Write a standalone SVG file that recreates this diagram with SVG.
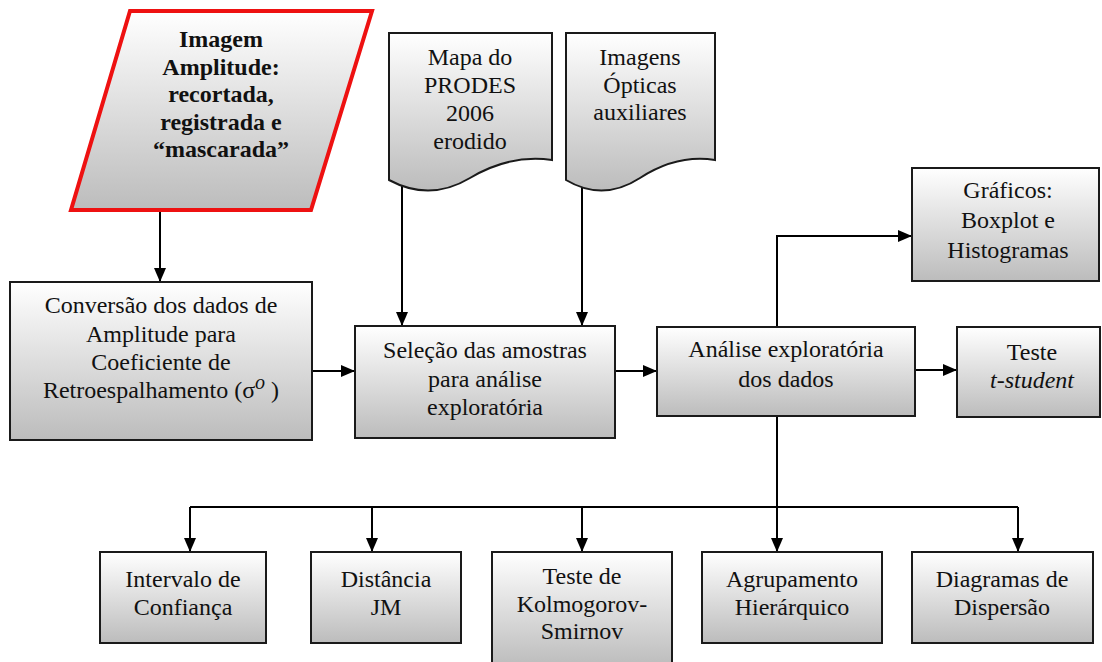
<svg xmlns="http://www.w3.org/2000/svg" width="1102" height="662" viewBox="0 0 1102 662">
<defs>
<linearGradient id="g" x1="0" y1="0" x2="0" y2="1">
<stop offset="0" stop-color="#ffffff"/>
<stop offset="1" stop-color="#bcbcbc"/>
</linearGradient>
<marker id="ah" markerWidth="14" markerHeight="12" refX="13" refY="6" orient="auto" markerUnits="userSpaceOnUse">
<path d="M0,0 L14,6 L0,12 Z" fill="#000"/>
</marker>
<style>
.box{fill:url(#g);stroke:#1a1a1a;stroke-width:2}
text{font-size:24px;fill:#111;text-anchor:middle}
.b{font-weight:bold}
.c{fill:none;stroke:#000;stroke-width:2}
</style>
</defs>
<rect width="1102" height="662" fill="#fff"/>

<g id="connectors">
<path class="c" d="M160,212 V281" marker-end="url(#ah)"/>
<path class="c" d="M402,186 V325" marker-end="url(#ah)"/>
<path class="c" d="M582,187 V325" marker-end="url(#ah)"/>
<path class="c" d="M312,371 H354" marker-end="url(#ah)"/>
<path class="c" d="M615,371 H656" marker-end="url(#ah)"/>
<path class="c" d="M777,327 V236 H911" marker-end="url(#ah)"/>
<path class="c" d="M915,370 H956" marker-end="url(#ah)"/>
<path class="c" d="M777,416 V551" marker-end="url(#ah)"/>
<path class="c" d="M190,507 H1018"/>
<path class="c" d="M190,507 V551" marker-end="url(#ah)"/>
<path class="c" d="M372,507 V551" marker-end="url(#ah)"/>
<path class="c" d="M582,507 V551" marker-end="url(#ah)"/>
<path class="c" d="M1018,507 V551" marker-end="url(#ah)"/>
</g>

<g font-family="Liberation Serif, serif">
<g id="imagem">
<polygon points="130,11 372,11 311,210 71,210" fill="url(#g)" stroke="#ee1111" stroke-width="4"/>
<text class="b" x="221" y="47">Imagem</text>
<text class="b" x="221" y="75">Amplitude:</text>
<text class="b" x="221" y="102">recortada,</text>
<text class="b" x="221" y="130">registrada e</text>
<text class="b" x="221" y="157">“mascarada”</text>
</g>

<g id="mapa">
<path class="box" d="M389,33 H552 V160 Q510,154 470,178 T389,180 Z"/>
<text x="470" y="65">Mapa do</text>
<text x="470" y="93">PRODES</text>
<text x="470" y="121">2006</text>
<text x="470" y="149">erodido</text>
</g>

<g id="opticas">
<path class="box" d="M566,33 H715 V160 Q677,154 640,178 T566,180 Z"/>
<text x="640" y="65">Imagens</text>
<text x="640" y="93">Ópticas</text>
<text x="640" y="120">auxiliares</text>
</g>

<g id="conversao">
<rect class="box" x="10" y="282" width="302" height="158"/>
<text x="161" y="313">Conversão dos dados de</text>
<text x="161" y="342">Amplitude para</text>
<text x="161" y="370">Coeficiente de</text>
<text x="161" y="398">Retroespalhamento (σ<tspan dy="-9" font-style="italic" font-size="20">o</tspan><tspan dy="9"> )</tspan></text>
</g>

<g id="selecao">
<rect class="box" x="355" y="326" width="260" height="112"/>
<text x="485" y="358">Seleção das amostras</text>
<text x="485" y="387">para análise</text>
<text x="485" y="415">exploratória</text>
</g>

<g id="analise">
<rect class="box" x="657" y="327" width="258" height="89"/>
<text x="786" y="357">Análise exploratória</text>
<text x="786" y="387">dos dados</text>
</g>

<g id="graficos">
<rect class="box" x="912" y="168" width="187" height="113"/>
<text x="1008" y="198">Gráficos:</text>
<text x="1008" y="228">Boxplot e</text>
<text x="1008" y="258">Histogramas</text>
</g>

<g id="teste">
<rect class="box" x="957" y="327" width="143" height="90"/>
<text x="1032" y="360">Teste</text>
<text x="1032" y="388" font-style="italic">t-student</text>
</g>

<g id="intervalo">
<rect class="box" x="100" y="552" width="166" height="91"/>
<text x="183" y="587">Intervalo de</text>
<text x="183" y="615">Confiança</text>
</g>

<g id="distancia">
<rect class="box" x="311" y="552" width="150" height="91"/>
<text x="386" y="587">Distância</text>
<text x="386" y="615">JM</text>
</g>

<g id="ks">
<rect class="box" x="492" y="552" width="180" height="115"/>
<text x="582" y="584">Teste de</text>
<text x="582" y="612">Kolmogorov-</text>
<text x="582" y="639">Smirnov</text>
</g>

<g id="agrupamento">
<rect class="box" x="702" y="552" width="180" height="91"/>
<text x="792" y="587">Agrupamento</text>
<text x="792" y="615">Hierárquico</text>
</g>

<g id="diagramas">
<rect class="box" x="912" y="552" width="181" height="91"/>
<text x="1002" y="587">Diagramas de</text>
<text x="1002" y="615">Dispersão</text>
</g>
</g>
</svg>
